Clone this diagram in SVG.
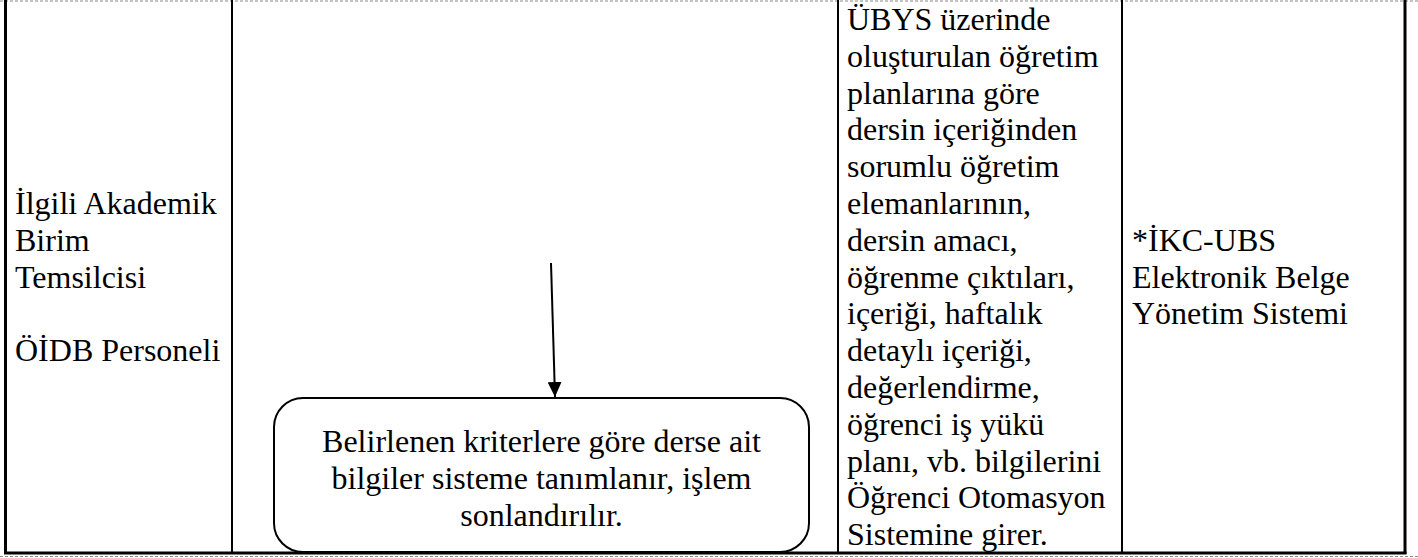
<svg xmlns="http://www.w3.org/2000/svg" width="1418" height="558" viewBox="0 0 1418 558">
  <style>
    .t { font-family: "Liberation Serif", "Times New Roman", serif; font-size: 32px; fill: #000; }
    .c { text-anchor: middle; }
    .grid { stroke: #000; stroke-width: 2; fill: none; }
    .edge { stroke: #000; stroke-width: 3; fill: none; }
    .page { stroke: #8a8a8a; stroke-width: 1.2; stroke-dasharray: 3 2; fill: none; }
    .box { fill: #fff; stroke: #000; stroke-width: 2; }
    .conn { stroke: #000; stroke-width: 2; fill: none; }
  </style>
  <defs>
    <marker id="arrow" markerWidth="16" markerHeight="14" refX="15" refY="7" orient="auto" markerUnits="userSpaceOnUse">
      <path d="M0,0 L15,7 L0,14 Z" fill="#000"/>
    </marker>
  </defs>
  <rect x="0" y="0" width="1418" height="558" fill="#fff"/>

  <g id="table">
    <line class="page" x1="0" y1="1" x2="1418" y2="1"/>
    <line class="page" x1="0" y1="556.5" x2="1418" y2="556.5"/>
    <line class="edge" x1="5.5" y1="0" x2="5.5" y2="554"/>
    <line class="grid" x1="232" y1="0" x2="232" y2="554"/>
    <line class="grid" x1="838" y1="0" x2="838" y2="554"/>
    <line class="grid" x1="1122" y1="0" x2="1122" y2="554"/>
    <line class="edge" x1="1405" y1="0" x2="1405" y2="554"/>
    <line class="edge" x1="4" y1="553" x2="1406.5" y2="553"/>
  </g>

  <g id="roles">
    <text class="t" x="15" y="214">İlgili Akademik</text>
    <text class="t" x="15" y="250.8">Birim</text>
    <text class="t" x="15" y="287.6">Temsilcisi</text>
    <text class="t" x="15" y="361.2">ÖİDB Personeli</text>
  </g>

  <g id="connectors">
    <line class="conn" x1="551" y1="263" x2="555" y2="397" marker-end="url(#arrow)"/>
  </g>

  <g id="step-define">
    <rect class="box" x="274" y="398" width="535" height="154" rx="29" ry="29"/>
    <text class="t c" x="541.5" y="452">Belirlenen kriterlere göre derse ait</text>
    <text class="t c" x="541.5" y="488.8">bilgiler sisteme tanımlanır, işlem</text>
    <text class="t c" x="541.5" y="525.6">sonlandırılır.</text>
  </g>

  <g id="description">
    <text class="t" x="847" y="30">ÜBYS üzerinde</text>
    <text class="t" x="847" y="66.8">oluşturulan öğretim</text>
    <text class="t" x="847" y="103.6">planlarına göre</text>
    <text class="t" x="847" y="140.4">dersin içeriğinden</text>
    <text class="t" x="847" y="177.2">sorumlu öğretim</text>
    <text class="t" x="847" y="214">elemanlarının,</text>
    <text class="t" x="847" y="250.8">dersin amacı,</text>
    <text class="t" x="847" y="287.6">öğrenme çıktıları,</text>
    <text class="t" x="847" y="324.4">içeriği, haftalık</text>
    <text class="t" x="847" y="361.2">detaylı içeriği,</text>
    <text class="t" x="847" y="398">değerlendirme,</text>
    <text class="t" x="847" y="434.8">öğrenci iş yükü</text>
    <text class="t" x="847" y="471.6">planı, vb. bilgilerini</text>
    <text class="t" x="847" y="508.4">Öğrenci Otomasyon</text>
    <text class="t" x="847" y="545.2">Sistemine girer.</text>
  </g>

  <g id="document">
    <text class="t" x="1132" y="250.8">*İKC-UBS</text>
    <text class="t" x="1132" y="287.6">Elektronik Belge</text>
    <text class="t" x="1132" y="324.4">Yönetim Sistemi</text>
  </g>
</svg>
